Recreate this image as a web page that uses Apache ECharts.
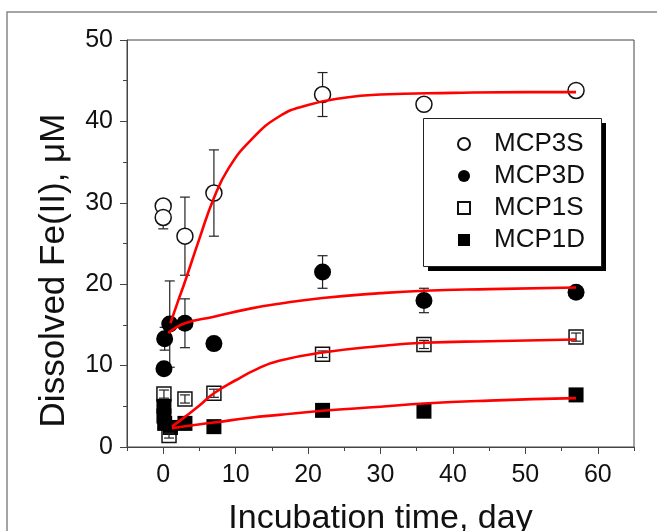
<!DOCTYPE html>
<html>
<head>
<meta charset="utf-8">
<script src="https://cdn.jsdelivr.net/npm/echarts@6/dist/echarts.min.js"></script>
<style>html,body{margin:0;padding:0;background:#fff}#c{width:657px;height:531px}</style>
</head>
<body>
<div id="c"></div>
<script>
// ---- data ----
const seriesNames = ['MCP3S', 'MCP3D', 'MCP1S', 'MCP1D'];

const mcp3sDay = [0, 0, 3, 7, 22, 36, 57];
const mcp3sFe  = [29.6, 28.2, 25.9, 31.2, 43.3, 42.1, 43.8];
const mcp3sErr = [0.6, 1.4, 4.8, 5.3, 2.7, 0, 0.4];

const mcp3dDay = [0.1, 0.2, 0.9, 3, 7, 22, 36, 57];
const mcp3dFe  = [9.6, 13.3, 15.1, 15.2, 12.7, 21.5, 18.0, 19.0];
const mcp3dErr = [0, 1.4, 5.3, 3.0, 0, 2.0, 1.5, 0];

const mcp1sDay = [0.1, 0.8, 3, 7, 22, 36, 57];
const mcp1sFe  = [6.5, 1.4, 5.9, 6.6, 11.4, 12.6, 13.5];
const mcp1sErr = [0.5, 0.3, 0.5, 0.5, 0.4, 0.5, 0.5];

const mcp1dDay = [0.1, 0.1, 0.2, 1, 3, 7, 22, 36, 57];
const mcp1dFe  = [5.0, 3.8, 2.9, 2.4, 2.9, 2.5, 4.5, 4.4, 6.4];

// fitted curves
const fit3sDay = [1, 2, 3, 5, 7, 9, 12, 16, 20, 25, 30, 40, 50, 57];
const fit3sFe  = [15.2, 17.8, 20.3, 25.6, 30.6, 34.2, 37.6, 40.6, 42.0, 42.9, 43.3, 43.5, 43.6, 43.6];
const fit3dDay = [0.7, 3, 7, 12, 16, 22, 30, 36, 45, 57];
const fit3dFe  = [14.0, 15.2, 16.0, 17.0, 17.6, 18.3, 18.9, 19.2, 19.4, 19.6];
const fit1sDay = [1.2, 3, 5, 7, 10, 13, 16, 22, 30, 36, 45, 57];
const fit1sFe  = [2.5, 3.7, 5.1, 6.6, 8.2, 9.6, 10.6, 11.6, 12.4, 12.8, 13.0, 13.2];
const fit1dDay = [1.2, 3, 7, 12, 16, 22, 30, 36, 45, 57];
const fit1dFe  = [2.3, 2.55, 3.0, 3.6, 3.95, 4.45, 4.95, 5.35, 5.7, 6.0];

const xMajorTicks = [0, 10, 20, 30, 40, 50, 60];

// ---- build ----
const FONT = '"Liberation Sans", Arial, sans-serif';
const zip = (a, b) => a.map((v, i) => [v, b[i]]);
const zip3 = (a, b, c) => a.map((v, i) => [v, b[i], c[i]]);

function errSeries(data, z) {
  return {
    type: 'custom', z: z, silent: true,
    data: data,
    renderItem: function (params, api) {
      const x = api.value(0), y = api.value(1), e = api.value(2);
      if (!e) return null;
      const t = api.coord([x, y + e]);
      const b = api.coord([x, y - e]);
      const w = 5;
      const st = { stroke: '#222', lineWidth: 1.2 };
      return {
        type: 'group',
        children: [
          { type: 'line', shape: { x1: t[0], y1: t[1], x2: b[0], y2: b[1] }, style: st },
          { type: 'line', shape: { x1: t[0] - w, y1: t[1], x2: t[0] + w, y2: t[1] }, style: st },
          { type: 'line', shape: { x1: b[0] - w, y1: b[1], x2: b[0] + w, y2: b[1] }, style: st }
        ]
      };
    }
  };
}

function fitSeries(d, f) {
  return {
    type: 'line', data: zip(d, f), smooth: true, showSymbol: false, silent: true,
    lineStyle: { color: '#ff0000', width: 2.6 }, z: 10
  };
}

const axisColor = '#444';
const chart = echarts.init(document.getElementById('c'), null, { renderer: 'canvas' });
chart.setOption({
  animation: false,
  backgroundColor: '#fff',
  textStyle: { fontFamily: FONT },
  graphic: [{
    type: 'rect', shape: { x: 7, y: 12, width: 700, height: 600 },
    style: { fill: 'none', stroke: '#888', lineWidth: 1.5 }, silent: true, z: -1
  }, {
    // legend drop shadow
    type: 'rect', shape: { x: 428, y: 123, width: 178, height: 148 },
    style: { fill: '#000' }, silent: true, z: 20
  }, {
    // legend frame
    type: 'rect', shape: { x: 423.5, y: 118.5, width: 178, height: 148 },
    style: { fill: '#fff', stroke: '#222', lineWidth: 1 }, silent: true, z: 21
  }],
  grid: [
    { left: 127, right: 23, top: 40, bottom: 84, containLabel: false, outerBoundsMode: 'none',
      show: true, borderColor: axisColor, borderWidth: 1, backgroundColor: 'transparent' },
    { left: 127, right: 23, top: 40, bottom: 84, containLabel: false, outerBoundsMode: 'none', show: false }
  ],
  legend: {
    orient: 'vertical', left: 423, top: 118, z: 30,
    data: seriesNames,
    backgroundColor: 'transparent', borderWidth: 0,
    padding: [13, 19, 20, 34],
    itemWidth: 12, itemHeight: 12, itemGap: 6,
    textStyle: { fontSize: 26, fontFamily: FONT, color: '#111', padding: [0, 0, 0, 19], lineHeight: 26 }
  },
  xAxis: [{
    gridIndex: 0, type: 'value', min: -5, max: 65, interval: 5,
    name: 'Incubation time, day', nameLocation: 'middle', nameGap: 55,
    nameTextStyle: { fontSize: 34, color: '#111', fontFamily: FONT },
    axisLine: { show: true, onZero: false, lineStyle: { color: axisColor, width: 1 } },
    axisTick: { show: true, length: 7, customValues: xMajorTicks, lineStyle: { color: axisColor } },
    axisLabel: { fontSize: 25, color: '#111', margin: 16, fontFamily: FONT, customValues: xMajorTicks },
    splitLine: { show: false }
  }, {
    gridIndex: 1, type: 'value', min: -5, max: 65, interval: 5, position: 'bottom',
    axisLine: { show: false, onZero: false },
    axisTick: { show: true, length: 4, lineStyle: { color: axisColor } },
    axisLabel: { show: false },
    splitLine: { show: false }
  }],
  yAxis: [{
    gridIndex: 0, type: 'value', min: 0, max: 50, interval: 10,
    name: 'Dissolved Fe(II), \u03bcM', nameLocation: 'middle', nameGap: 55, nameRotate: 90,
    nameTextStyle: { fontSize: 35, color: '#111', fontFamily: FONT, padding: [0, 54, 0, 0] },
    axisLine: { show: true, onZero: false, lineStyle: { color: axisColor, width: 1 } },
    axisTick: { show: true, length: 7, lineStyle: { color: axisColor } },
    minorTick: { show: true, splitNumber: 2, length: 4, lineStyle: { color: axisColor } },
    axisLabel: { fontSize: 25, color: '#111', margin: 14, fontFamily: FONT },
    splitLine: { show: false }
  }, {
    gridIndex: 1, type: 'value', min: 0, max: 50, show: false
  }],
  series: [
    errSeries(zip3(mcp3sDay, mcp3sFe, mcp3sErr), 1),
    errSeries(zip3(mcp3dDay, mcp3dFe, mcp3dErr), 1),
    {
      name: 'MCP3S', type: 'scatter', data: zip(mcp3sDay, mcp3sFe), symbol: 'circle', symbolSize: 16, z: 3,
      itemStyle: { color: '#fff', borderColor: '#111', borderWidth: 1.5, opacity: 1 }
    },
    {
      name: 'MCP3D', type: 'scatter', data: zip(mcp3dDay, mcp3dFe), symbol: 'circle', symbolSize: 17, z: 3,
      itemStyle: { color: '#000', borderColor: '#000', borderWidth: 0, opacity: 1 }
    },
    {
      name: 'MCP1S', type: 'scatter', data: zip(mcp1sDay, mcp1sFe), symbol: 'rect', symbolSize: 14, z: 3,
      itemStyle: { color: '#fff', borderColor: '#111', borderWidth: 1.5, opacity: 1 }
    },
    {
      name: 'MCP1D', type: 'scatter', data: zip(mcp1dDay, mcp1dFe), symbol: 'rect', symbolSize: 15, z: 3,
      itemStyle: { color: '#000', borderColor: '#000', borderWidth: 0, opacity: 1 }
    },
    errSeries(zip3(mcp1sDay, mcp1sFe, mcp1sErr), 4),
    fitSeries(fit3sDay, fit3sFe),
    fitSeries(fit3dDay, fit3dFe),
    fitSeries(fit1sDay, fit1sFe),
    fitSeries(fit1dDay, fit1dFe)
  ]
});
</script>
</body>
</html>
